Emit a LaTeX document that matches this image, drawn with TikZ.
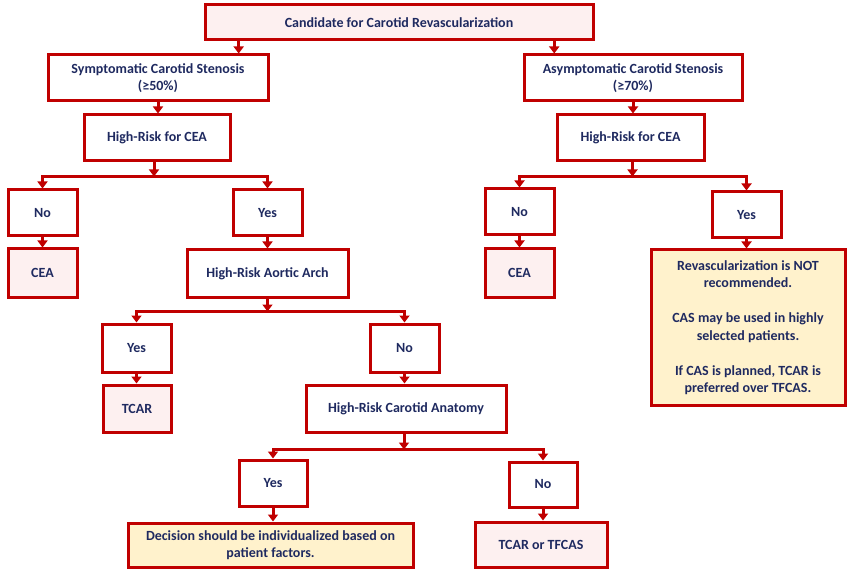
\documentclass[tikz,border=0pt]{standalone}
\usepackage{fontspec}
\setmainfont{Carlito}
\usetikzlibrary{arrows.meta,calc}
\definecolor{boxred}{RGB}{192,0,0}
\definecolor{txtblue}{RGB}{31,42,96}
\definecolor{pinkfill}{RGB}{253,240,240}
\definecolor{notefill}{RGB}{255,242,204}
\begin{document}
\begin{tikzpicture}[x=1pt,y=-1pt,
	box/.style={draw=boxred, line width=3pt, fill=white, inner sep=2pt, align=center, text=txtblue, font=\fontsize{14}{17.5}\selectfont\bfseries},
	endbox/.style={box, fill=pinkfill},
	notebox/.style={box, fill=notefill},
	arr/.style={draw=boxred, line width=3pt, -{Triangle[width=10pt,length=7pt]}}]
	    \useasboundingbox (0,0) rectangle (848,569);
	    
	    \node [endbox, minimum width=388pt, minimum height=35pt] (top) at (399,22.5) {Candidate for Carotid Revascularization};
	    \node [box, minimum width=220pt, minimum height=46pt] (symp) at (158,78) {Symptomatic Carotid Stenosis\\(≥50\%)};
	    \node [box, minimum width=218pt, minimum height=46pt] (asym) at (633,78) {Asymptomatic Carotid Stenosis\\(≥70\%)};
	    \node [box, minimum width=146pt, minimum height=46pt] (hrl) at (157,138) {High-Risk for CEA};
	    \node [box, minimum width=147pt, minimum height=46pt] (hrr) at (630.5,138) {High-Risk for CEA};
	    
	    \node [box, minimum width=69pt, minimum height=46pt] (nol) at (42.5,213) {No};
	    \node [box, minimum width=69pt, minimum height=46pt] (yesl) at (267.5,213) {Yes};
	    \node [endbox, minimum width=69pt, minimum height=48pt] (ceal) at (42.5,273) {CEA};
	    \node [box, minimum width=161pt, minimum height=47pt] (arch) at (267.5,273.5) {High-Risk Aortic Arch};
	    \node [box, minimum width=69pt, minimum height=48pt] (yesarch) at (136.5,348) {Yes};
	    \node [box, minimum width=69pt, minimum height=48pt] (noarch) at (404.5,348) {No};
	    \node [endbox, minimum width=68pt, minimum height=47pt] (tcar) at (137,408.5) {TCAR};
	    \node [box, minimum width=200pt, minimum height=47pt] (anat) at (406,408.5) {High-Risk Carotid Anatomy};
	    \node [box, minimum width=68pt, minimum height=46pt] (yesanat) at (273,483) {Yes};
	    \node [box, minimum width=68pt, minimum height=45pt] (noanat) at (543,484.5) {No};
	    \node [notebox, minimum width=285pt, minimum height=44pt] (indiv) at (270.5,545) {Decision should be individualized based on\\patient factors.};
	    \node [endbox, minimum width=132pt, minimum height=45pt] (tfcas) at (541,544.5) {TCAR or TFCAS};
	    
	    \node [box, minimum width=69pt, minimum height=46pt] (nor) at (519.5,212) {No};
	    \node [box, minimum width=69pt, minimum height=46pt] (yesr) at (746.5,215) {Yes};
	    \node [endbox, minimum width=69pt, minimum height=48pt] (cear) at (519.5,273) {CEA};
	    \node [notebox, minimum width=194pt, minimum height=155pt] (notrec) at (748,327.5) {Revascularization is NOT\\recommended.\\[17.5pt]CAS may be used in highly\\selected patients.\\[17.5pt]If CAS is planned, TCAR is\\preferred over TFCAS.};
	    
	    \coordinate (t1) at ($(top.south west)!0.09!(top.south east)$);
	    \coordinate (t2) at ($(top.south west)!0.897!(top.south east)$);
	    \coordinate (j1) at ($(hrl.south)+(-3,14)$);
	    \coordinate (j2) at ($(hrr.south)+(2,14)$);
	    \coordinate (j3) at ($(arch.south)+(0,13)$);
	    \coordinate (j4) at ($(anat.south)+(-2,16)$);
	    
	    \draw [arr] (t1) -- (t1 |- symp.north);
	    \draw [arr] (t2) -- (t2 |- asym.north);
	    \draw [arr] (symp.south) -- (symp.south |- hrl.north);
	    \draw [arr] (asym.south) -- (asym.south |- hrr.north);
	    
	    \draw [arr] (hrl.south -| j1) -- (j1);
	    \draw [arr] (j1) -| (nol.north);
	    \draw [arr] (j1) -| (yesl.north);
	    \draw [arr] (nol.south) -- (nol.south |- ceal.north);
	    \draw [arr] (yesl.south) -- (yesl.south |- arch.north);
	    
	    \draw [arr] (arch.south) -- (j3);
	    \draw [arr] (j3) -| (yesarch.north);
	    \draw [arr] (j3) -| (noarch.north);
	    \draw [arr] (yesarch.south) -- (yesarch.south |- tcar.north);
	    \draw [arr] (noarch.south) -- (noarch.south |- anat.north);
	    
	    \draw [arr] (anat.south -| j4) -- (j4);
	    \draw [arr] (j4) -| (yesanat.north);
	    \draw [arr] (j4) -| (noanat.north);
	    \draw [arr] (yesanat.south) -- (yesanat.south |- indiv.north);
	    \draw [arr] (noanat.south) -- (noanat.south |- tfcas.north);
	    
	    \draw [arr] (hrr.south -| j2) -- (j2);
	    \draw [arr] (j2) -| (nor.north);
	    \draw [arr] (j2) -| (yesr.north);
	    \draw [arr] (nor.south) -- (nor.south |- cear.north);
	    \draw [arr] (yesr.south) -- (yesr.south |- notrec.north);
\end{tikzpicture}
\end{document}
